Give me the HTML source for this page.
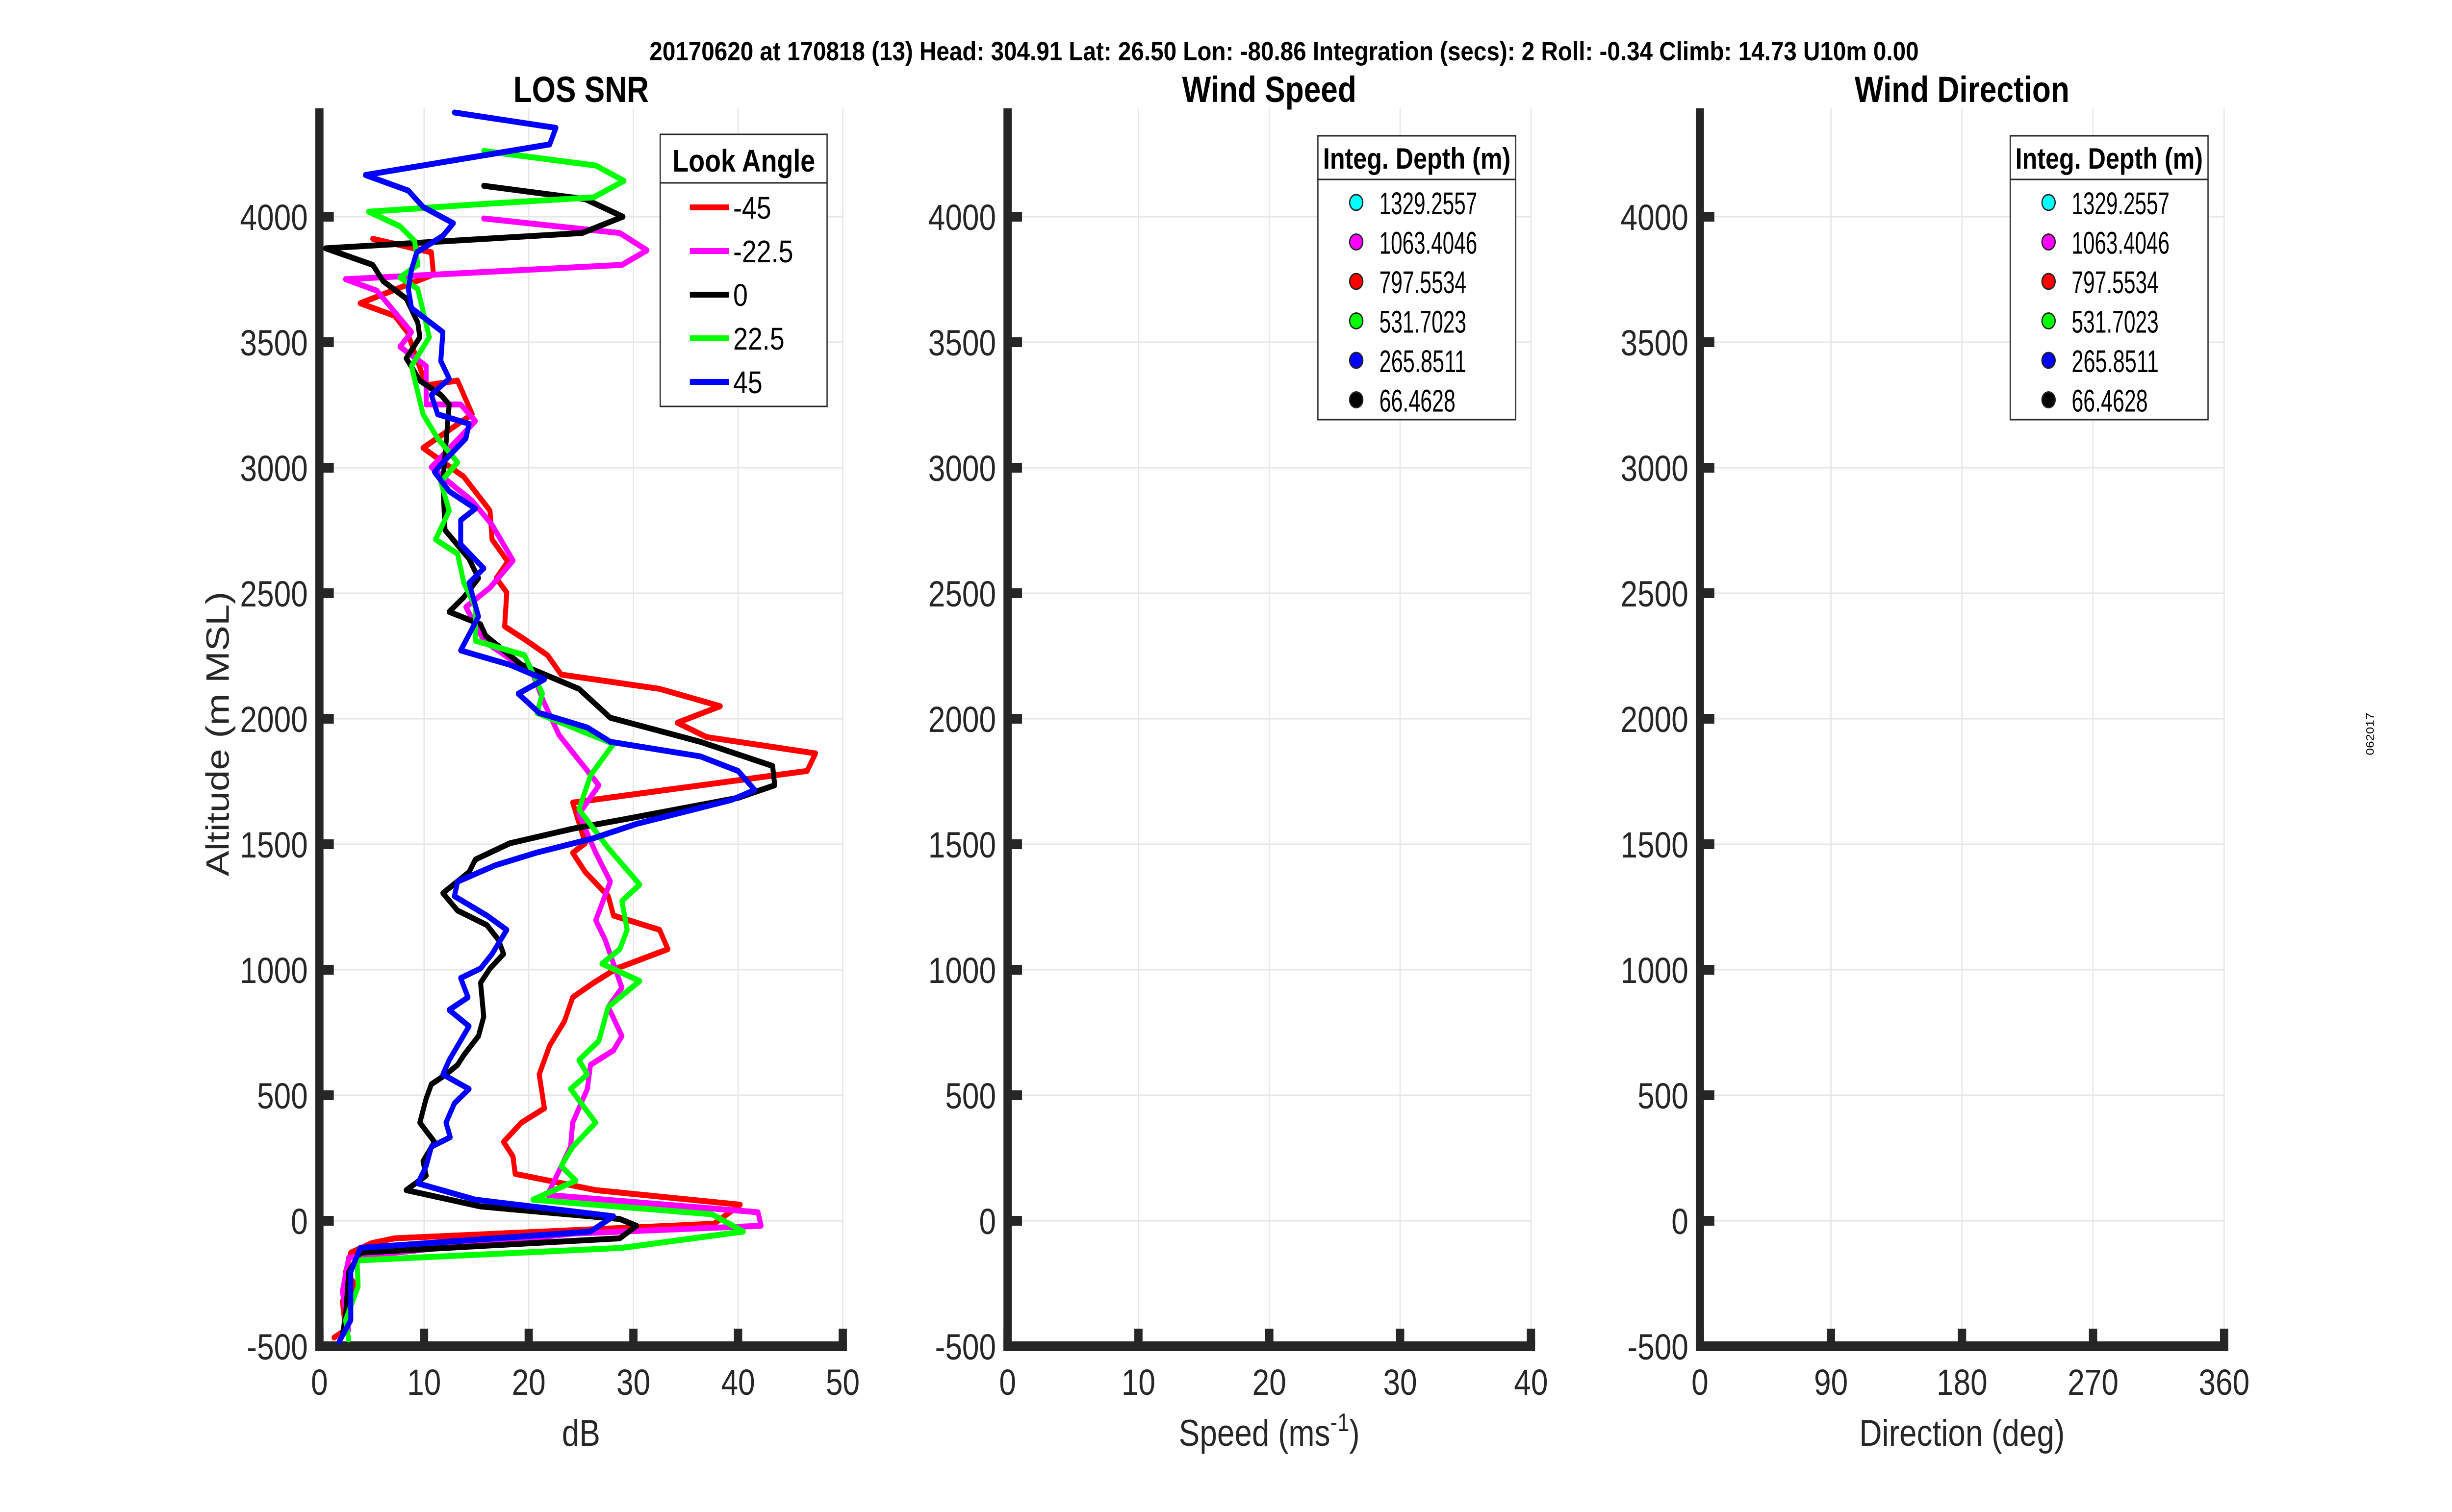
<!DOCTYPE html>
<html><head><meta charset="utf-8"><style>
html,body{margin:0;padding:0;background:#fff;overflow:hidden;width:100vw;height:100vh;}
svg{display:block;font-family:"Liberation Sans",Arial,sans-serif;width:100vw;height:100vh;}
</style></head><body>
<svg id="fig" viewBox="0 0 5950 3084" preserveAspectRatio="none" xmlns="http://www.w3.org/2000/svg">
<text x="3116" y="123" font-size="54" font-weight="bold" text-anchor="middle" textLength="3080" lengthAdjust="spacingAndGlyphs">20170620 at 170818 (13)  Head: 304.91  Lat: 26.50  Lon: -80.86  Integration (secs): 2  Roll: -0.34  Climb: 14.73  U10m 0.00</text>
<text x="5760" y="1497" font-size="26" text-anchor="middle" transform="rotate(-90 5760 1497)">062017</text>
<g id="p1"></g>
<g id="p2"></g>
<g id="p3"></g>
</svg>
<script>
// ---- data ----
const altTicks = [-500,0,500,1000,1500,2000,2500,3000,3500,4000];
const snrTicks = [0,10,20,30,40,50];
const speedTicks = [0,10,20,30,40];
const dirTicks = [0,90,180,270,360];
const lookAngles = ['-45','-22.5','0','22.5','45'];
const lookColors = ['#ff0000','#ff00ff','#000000','#00ff00','#0000ff'];
const depthLabels = ['1329.2557','1063.4046','797.5534','531.7023','265.8511','66.4628'];
const depthColors = ['#00ffff','#ff00ff','#ff0000','#00ff00','#0000ff','#000000'];
const snrM45 = [[5.1,3912],[10.7,3858],[10.9,3770],[3.9,3655],[7.2,3605],[8.4,3540],[10.2,3328],[13.2,3347],[14.6,3213],[9.9,3079],[13.8,2964],[16.3,2829],[16.5,2714],[18,2626],[16.9,2560],[17.9,2503],[17.7,2368],[19.8,2311],[21.8,2253],[23.1,2176],[32.5,2119],[38.3,2050],[34.2,1984],[37,1927],[47.4,1862],[46.6,1792],[24.2,1666],[25.4,1504],[24.2,1466],[25.4,1389],[27.6,1293],[28.1,1216],[32.5,1159],[33.3,1082],[28.4,1005],[26.2,948],[24.2,890],[23.4,794],[22,698],[21,583],[21.5,448],[19.3,391],[17.6,314],[18.5,256],[18.7,187],[26.4,122],[40.2,64],[37.7,-12],[7.2,-70],[5,-89],[3,-127],[2.5,-204],[3.6,-262],[2.2,-320],[2.5,-435],[1.4,-465]];
const snrM22 = [[15.7,3993],[28.7,3935],[31.3,3866],[28.9,3808],[2.5,3751],[5.5,3705],[8.8,3540],[7.7,3482],[10.2,3405],[10.2,3252],[13.5,3252],[14.9,3186],[10.7,3002],[12.9,2925],[14.6,2868],[16.5,2772],[18.5,2630],[16.3,2522],[14,2445],[15.7,2311],[20.4,2176],[21.5,2061],[22.9,1935],[26.7,1735],[24.8,1620],[26.4,1466],[27.8,1351],[26.4,1197],[27.3,1120],[28.9,928],[27.6,852],[28.9,736],[28.1,679],[25.9,621],[25.6,525],[24.2,391],[24,295],[21.8,103],[41.9,34],[42.2,-20],[24.2,-51],[2.8,-147],[2.2,-281],[2.8,-435]];
const snr0 = [[15.7,4123],[25.4,4070],[29,4000],[25.1,3935],[0.6,3874],[5.1,3808],[6.1,3743],[8.3,3674],[9.4,3578],[9.6,3520],[8.3,3436],[9.6,3347],[11.6,3290],[12.4,3252],[12.1,3098],[11.8,2944],[12,2752],[14.3,2637],[15.2,2560],[13.8,2484],[12.4,2426],[15.4,2376],[15.9,2330],[19.3,2215],[24.8,2119],[27.8,2004],[36.4,1908],[43.3,1812],[43.5,1735],[40,1685],[29.2,1600],[24.2,1562],[18.2,1504],[14.9,1439],[14.3,1389],[11.8,1305],[13.2,1236],[16,1178],[17.1,1120],[17.6,1063],[16.3,1005],[15.4,948],[15.7,813],[15.2,736],[13.8,660],[13.2,621],[12.1,583],[10.7,544],[10.2,487],[9.6,391],[11,314],[9.9,237],[10.2,180],[8.3,122],[15.4,57],[28.7,7],[30.3,-20],[28.7,-70],[3.9,-127],[2.8,-204],[2.5,-377],[2.2,-454]];
const snrP22 = [[15.7,4262],[26.4,4204],[29.1,4143],[26.2,4077],[15.4,4050],[4.7,4020],[7.7,3962],[9.1,3904],[9.4,3808],[7.7,3758],[9.4,3712],[10.5,3520],[8.8,3405],[9.9,3213],[11.3,3117],[13.2,3021],[11.6,2944],[12.4,2829],[11.1,2714],[13.2,2657],[13.8,2541],[14.9,2445],[14.9,2311],[19.6,2253],[21.3,2100],[20.8,2023],[28.1,1900],[25.9,1774],[24.8,1639],[27.6,1485],[30.6,1339],[28.9,1274],[29.4,1159],[28.7,1082],[27,1024],[30.6,955],[27.6,852],[26.7,717],[24.8,640],[25.6,583],[24,525],[26.4,391],[24.2,295],[23.1,218],[24.5,160],[20.4,84],[37.5,26],[40.5,-43],[28.9,-108],[3.6,-158],[3.7,-262],[2.5,-396],[2.8,-473]];
const snrP45 = [[12.9,4415],[22.6,4354],[22,4288],[4.4,4166],[8.5,4104],[9.9,4039],[12.8,3974],[11.8,3924],[9.3,3858],[8.8,3789],[8.5,3712],[8.8,3636],[11.8,3540],[11.6,3425],[12.4,3355],[10.7,3290],[11.3,3213],[14.3,3175],[14,3117],[11.8,3021],[11,2983],[12.4,2906],[14.9,2837],[13.5,2791],[13.5,2695],[15.7,2599],[14.3,2541],[15.2,2407],[13.5,2272],[18.2,2215],[21.5,2157],[19,2100],[21,2023],[25.6,1965],[27.8,1908],[36.4,1850],[40,1792],[41.6,1716],[39.4,1677],[30.3,1581],[26.2,1524],[20.7,1466],[16.8,1416],[13.2,1351],[12.9,1293],[16,1216],[17.9,1159],[16.5,1063],[15.4,1005],[13.5,967],[14.2,890],[12.4,840],[14.3,775],[12.4,640],[11.8,583],[14.3,525],[12.9,468],[12.1,391],[12.5,333],[10.7,295],[10.2,218],[9.4,149],[14.9,84],[28.1,18],[25.9,-43],[3.9,-108],[3,-204],[3,-396],[1.9,-481]];
const snrSeries = [snrM45, snrM22, snr0, snrP22, snrP45];

const NS='http://www.w3.org/2000/svg';
function mk(parent, tag, attrs, text){
  const e=document.createElementNS(NS,tag);
  for(const k in attrs) e.setAttribute(k,attrs[k]);
  if(text!==undefined) e.textContent=text;
  parent.appendChild(e); return e;
}
const Y_TOP=221, Y0=2746, PX_PER_M=(2746-442)/4500;
function yScale(a){ return Y0-(a+500)*PX_PER_M; }

function panel(g, x0, width, xmin, xmax, xticks, title, xlabel, xsup){
  const xs = v => x0 + (v-xmin)/(xmax-xmin)*width;
  altTicks.forEach(a=>{
    const l=mk(g,'line',{x1:x0,x2:x0+width,y1:yScale(a),y2:yScale(a),stroke:'#e6e6e6','stroke-width':3});
    
    
  });
  xticks.forEach(v=>{
    const l=mk(g,'line',{x1:xs(v),x2:xs(v),y1:Y_TOP,y2:Y0,stroke:'#e6e6e6','stroke-width':3});
    
    
  });
  const ya=mk(g,'rect',{x:x0-10,y:Y_TOP,width:20,height:Y0-Y_TOP+10,fill:'#262626'});
  
  
  const xa=mk(g,'rect',{x:x0-10,y:Y0-10,width:width+20,height:20,fill:'#262626'});
  
  
  altTicks.forEach(a=>{
    const y=yScale(a);
    const t=mk(g,'rect',{x:x0,y:y-10,width:35,height:20,fill:'#262626'});
    
    
    const lb=mk(g,'text',{x:x0-28,y:y+27,'font-size':74,'text-anchor':'end',fill:'#262626'},String(a));
    
    
  });
  xticks.forEach(v=>{
    const x=xs(v);
    const t=mk(g,'rect',{x:x-10,y:Y0-36,width:20,height:36,fill:'#262626'});
    
    
    const lb=mk(g,'text',{x:x,y:2845,'font-size':74,'text-anchor':'middle',fill:'#262626'},String(v));
    
    
  });
  const tt=mk(g,'text',{x:x0+width/2,y:208,'font-size':74,'font-weight':'bold','text-anchor':'middle'},title);
  
  
  const xl=mk(g,'text',{x:x0+width/2,y:2949,'font-size':76,'text-anchor':'middle',fill:'#262626'},xlabel);
  
  
  if(xsup){
    const ts=document.createElementNS(NS,'tspan');
    ts.setAttribute('dy','-30'); ts.setAttribute('font-size','52'); ts.textContent=xsup;
    xl.appendChild(ts);
    const ts2=document.createElementNS(NS,'tspan');
    ts2.setAttribute('dy','30'); ts2.textContent=')';
    xl.appendChild(ts2);
  }
  return xs;
}

const g1=document.getElementById('p1');
const xs1=panel(g1,775,1270,0,50,snrTicks,'LOS SNR','dB');
const yl=mk(g1,'text',{x:555,y:1497,'font-size':78,'text-anchor':'middle',fill:'#262626',transform:'rotate(-90 555 1497)'},'Altitude (m MSL)');


snrSeries.forEach((s,i)=>{
  const pts=s.map(p=>xs1(p[0]).toFixed(1)+','+yScale(p[1]).toFixed(1)).join(' ');
  const pl=mk(g1,'polyline',{points:pts,fill:'none',stroke:lookColors[i],'stroke-width':12,'stroke-linejoin':'round','stroke-linecap':'round'});
  
  
});
const lg=mk(g1,'g',{});


mk(lg,'rect',{x:1602,y:274,width:405,height:555,fill:'#fff',stroke:'#262626','stroke-width':3});
mk(lg,'line',{x1:1602,x2:2007,y1:373,y2:373,stroke:'#262626','stroke-width':3});
const lgt=mk(lg,'text',{x:1805,y:350,'font-size':64,'font-weight':'bold','text-anchor':'middle'},'Look Angle');


lookAngles.forEach((a,i)=>{
  const y=423+i*89;
  const ln=mk(lg,'line',{x1:1674,x2:1769,y1:y,y2:y,stroke:lookColors[i],'stroke-width':12});
  
  
  const tx=mk(lg,'text',{x:1779,y:y+23,'font-size':64},a);
  
  
});

function depthLegend(g,x0,y0){
  const lg=mk(g,'g',{});
  
  
  mk(lg,'rect',{x:x0,y:y0,width:480,height:579,fill:'#fff',stroke:'#262626','stroke-width':3});
  mk(lg,'line',{x1:x0,x2:x0+480,y1:y0+89,y2:y0+89,stroke:'#262626','stroke-width':3});
  const t=mk(lg,'text',{x:x0+240,y:y0+67,'font-size':60,'font-weight':'bold','text-anchor':'middle',textLength:455,lengthAdjust:'spacingAndGlyphs'},'Integ. Depth (m)');
  
  
  depthLabels.forEach((d,i)=>{
    const y=y0+136+i*80.5;
    const c=mk(lg,'circle',{cx:x0+93,cy:y,r:16,fill:depthColors[i],stroke:'#222','stroke-width':3});
    
    
    const tx=mk(lg,'text',{x:x0+149,y:y+24,'font-size':64,textLength:48*d.length*0.55,lengthAdjust:'spacingAndGlyphs'},d);
    
    
  });
}
const g2=document.getElementById('p2');
panel(g2,2445,1270,0,40,speedTicks,'Wind Speed','Speed (ms','-1');
depthLegend(g2,3198,277);
const g3=document.getElementById('p3');
panel(g3,4125,1272,0,360,dirTicks,'Wind Direction','Direction (deg)');
depthLegend(g3,4878,277);
</script>
</body></html>
